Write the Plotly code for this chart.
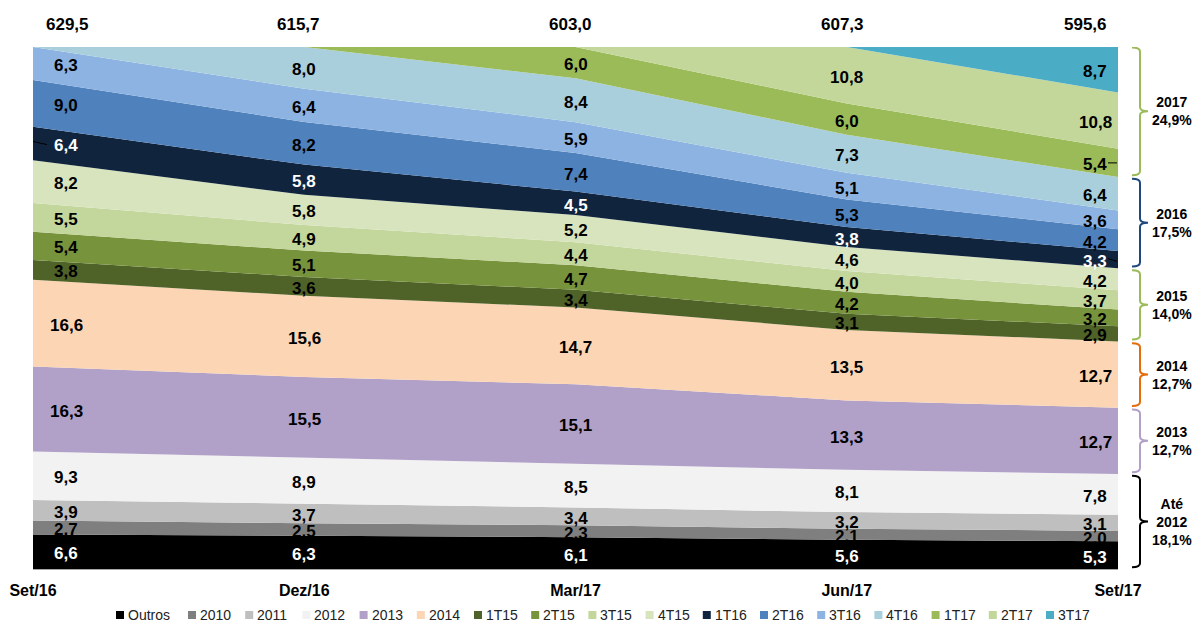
import plotly.graph_objects as go
import numpy as np

# ---------------- data ----------------
categories = ["Set/16", "Dez/16", "Mar/17", "Jun/17", "Set/17"]
totals = ["629,5", "615,7", "603,0", "607,3", "595,6"]

series_names = ["Outros", "2010", "2011", "2012", "2013", "2014",
                "1T15", "2T15", "3T15", "4T15",
                "1T16", "2T16", "3T16", "4T16",
                "1T17", "2T17", "3T17"]

outros = [6.6, 6.3, 6.1, 5.6, 5.3]
y2010 = [2.7, 2.5, 2.3, 2.1, 2.0]
y2011 = [3.9, 3.7, 3.4, 3.2, 3.1]
y2012 = [9.3, 8.9, 8.5, 8.1, 7.8]
y2013 = [16.3, 15.5, 15.1, 13.3, 12.7]
y2014 = [16.6, 15.6, 14.7, 13.5, 12.7]
q1_15 = [3.8, 3.6, 3.4, 3.1, 2.9]
q2_15 = [5.4, 5.1, 4.7, 4.2, 3.2]
q3_15 = [5.5, 4.9, 4.4, 4.0, 3.7]
q4_15 = [8.2, 5.8, 5.2, 4.6, 4.2]
q1_16 = [6.4, 5.8, 4.5, 3.8, 3.3]
q2_16 = [9.0, 8.2, 7.4, 5.3, 4.2]
q3_16 = [6.3, 6.4, 5.9, 5.1, 3.6]
q4_16 = [0, 8.0, 8.4, 7.3, 6.4]
q1_17 = [0, 0, 6.0, 6.0, 5.4]
q2_17 = [0, 0, 0, 10.8, 10.8]
q3_17 = [0, 0, 0, 0, 8.7]

series_values = [outros, y2010, y2011, y2012, y2013, y2014,
                 q1_15, q2_15, q3_15, q4_15,
                 q1_16, q2_16, q3_16, q4_16,
                 q1_17, q2_17, q3_17]

# groups shown by the braces at the right (first/last series index)
group_labels = ["Até<br>2012<br>18,1%", "2013<br>12,7%", "2014<br>12,7%",
                "2015<br>14,0%", "2016<br>17,5%", "2017<br>24,9%"]
group_ranges = [(0, 3), (4, 4), (5, 5), (6, 9), (10, 13), (14, 16)]

# ---------------- style ----------------
colors = ["#000000", "#7f7f7f", "#bfbfbf", "#f2f2f2", "#b1a0c7", "#fcd5b5",
          "#4f6228", "#77933c", "#c3d69b", "#d7e4bd",
          "#10243e", "#4f81bd", "#8db3e2", "#a9cfdd",
          "#9bbb59", "#c4d79b", "#4bacc6"]
label_colors = ["#ffffff" if i in (0, 10) else "#000000" for i in range(len(series_names))]
brace_colors = ["#000000", "#b1a0c7", "#e46c0a", "#9bbb59", "#1f497d", "#9bbb59"]

FONT = "Arial, Liberation Sans, sans-serif"
W, H = 1195, 623
ML, MR, MT, MB = 33, 77, 47, 54
PW, PH = W - ML - MR, H - MT - MB


def pxx(px):
    return (px - ML) / PW


def pxy(py):
    return (H - MB - py) / PH


fig = go.Figure()
for name, vals, col in zip(series_names, series_values, colors):
    fig.add_trace(go.Scatter(
        x=list(range(len(categories))), y=vals, name=name,
        mode="lines", line=dict(width=0, color=col),
        fillcolor=col, stackgroup="one", groupnorm="percent",
        hoverinfo="skip", showlegend=False))

# normalized cumulative stack for label placement
arr = np.array(series_values, dtype=float)
norm = arr / arr.sum(axis=0) * 100.0
cum = np.cumsum(norm, axis=0)
low = cum - norm

annotations = []
shapes = []

label_xshift = [33, 0, 0, 0, -23]
for s in range(len(series_names)):
    for c in range(len(categories)):
        v = series_values[s][c]
        if v <= 0:
            continue
        annotations.append(dict(
            x=c, y=(low[s, c] + cum[s, c]) / 2, xref="x", yref="y",
            text="<b>" + f"{v:.1f}".replace(".", ",") + "</b>", showarrow=False,
            xshift=label_xshift[c], yshift=-2,
            font=dict(family=FONT, size=17, color=label_colors[s])))

# total labels above the plot
total_xshift = [34, -6, -5, -4, -33]
for c, t in enumerate(totals):
    annotations.append(dict(
        x=c, y=pxy(24), xref="x", yref="paper", text=f"<b>{t}</b>", showarrow=False,
        xshift=total_xshift[c], yanchor="middle",
        font=dict(family=FONT, size=17, color="#000000")))

# leader lines for a few labels
leaders = [(10, 0, 33, 47, 0.4, -0.2), (14, 4, 1108, 1117, 0.0, 0.0), (10, 4, 1108, 1117, 0.2, -0.3)]
for s, c, xa, xb, da, db in leaders:
    ym = (low[s, c] + cum[s, c]) / 2
    shapes.append(dict(type="line", xref="paper", yref="y",
                       x0=pxx(xa), x1=pxx(xb), y0=ym + da, y1=ym + db,
                       line=dict(color="#000000", width=1)))

# braces at the right
last = len(categories) - 1
xa, xb, xc = pxx(1132), pxx(1140), pxx(1148)
r = 4 / PH * 100
for (g0, g1), lab, col in zip(group_ranges, group_labels, brace_colors):
    y_lo = low[g0, last] + 0.35
    y_hi = min(cum[g1, last], 100) - 0.35 if g1 < 16 else 99.9
    y_m = (y_lo + y_hi) / 2
    path = (f"M {xa},{y_hi} Q {xb},{y_hi} {xb},{y_hi - r} "
            f"L {xb},{y_m + r} Q {xb},{y_m} {xc},{y_m} "
            f"Q {xb},{y_m} {xb},{y_m - r} "
            f"L {xb},{y_lo + r} Q {xb},{y_lo} {xa},{y_lo}")
    shapes.append(dict(type="path", path=path, xref="paper", yref="y",
                       line=dict(color=col, width=2)))
    annotations.append(dict(
        x=pxx(1172), y=y_m, xref="paper", yref="y", text=f"<b>{lab}</b>", showarrow=False,
        xanchor="center", yanchor="middle", align="center",
        font=dict(family=FONT, size=14, color="#000000")))

# custom legend (squares + text) along the bottom
leg_centers = [120] + [192 + 57.2 * k for k in range(len(series_names) - 1)]
leg_y = 615
for name, col, cx in zip(series_names, colors, leg_centers):
    shapes.append(dict(type="rect", xref="paper", yref="paper",
                       x0=pxx(cx - 4), x1=pxx(cx + 4), y0=pxy(leg_y + 4), y1=pxy(leg_y - 4),
                       fillcolor=col, line=dict(width=0)))
    annotations.append(dict(
        x=pxx(cx + 6), y=pxy(leg_y), xref="paper", yref="paper", text=name,
        showarrow=False, xanchor="left", yanchor="middle",
        font=dict(family=FONT, size=14, color="#222222")))

fig.update_layout(
    width=W, height=H,
    margin=dict(l=ML, r=MR, t=MT, b=MB, pad=0, autoexpand=False),
    paper_bgcolor="white", plot_bgcolor="white",
    showlegend=False,
    annotations=annotations, shapes=shapes,
    xaxis=dict(range=[0, len(categories) - 1], tickvals=list(range(len(categories))),
               ticktext=[f"<b>{c}</b>" for c in categories], showgrid=False, zeroline=False,
               showline=True, linecolor="#a6a6a6", linewidth=1, ticks="",
               ticklabelstandoff=7, automargin=False,
               tickfont=dict(family=FONT, size=16, color="#000000")),
    yaxis=dict(range=[0, 100], showgrid=False, zeroline=False, showticklabels=False,
               showline=False),
)

fig.write_html("out.html", config={"displayModeBar": False},
               post_script="document.body.style.margin='0px';document.body.style.overflow='hidden';")
